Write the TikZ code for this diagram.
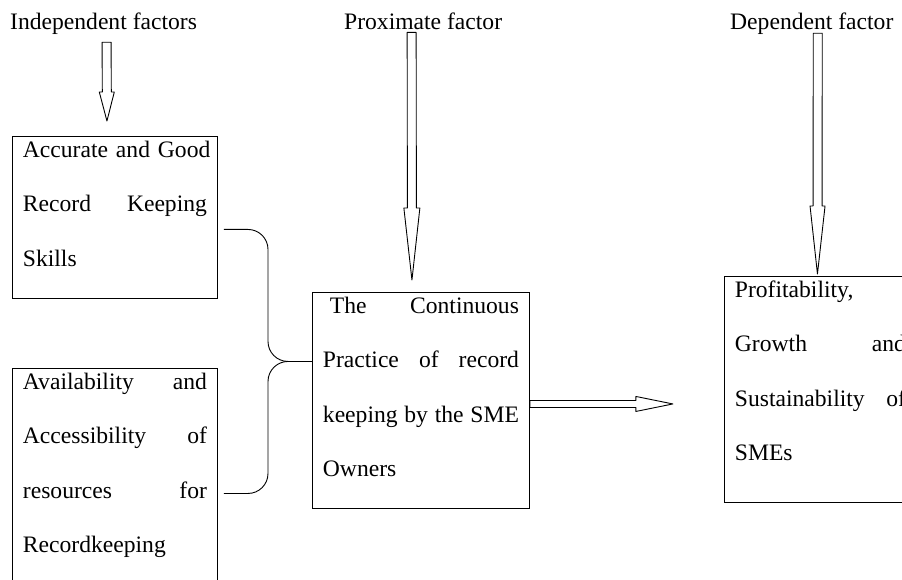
\documentclass[tikz,border=0pt]{standalone}
\usepackage{fontspec}
\setmainfont{Liberation Serif}
\usetikzlibrary{calc}

\tikzset{
  heading/.style={inner sep=0pt, anchor=base west, font=\fontsize{23.6}{28}\selectfont},
  factor/.style={draw, line width=0.9pt, anchor=north west, align=left,
    inner xsep=10.5pt, inner ysep=0pt, text height=21pt,
    font=\fontsize{23.6}{54.5}\selectfont},
  blockarrow/.style={draw, line width=0.9pt, line join=round},
  linkline/.style={draw, line width=0.9pt, rounded corners=20pt}
}

% hollow block arrow: start, tip, head length, half shaft, half head
\newcommand{\hollowarrow}[5]{%
  \draw[blockarrow] ($(#1)!#4!90:(#2)$) -- ($(#2)!#3!(#1)!#4!90:(#2)$)
    -- ($(#2)!#3!(#1)!#5!90:(#2)$) -- (#2)
    -- ($(#2)!#3!(#1)!#5!-90:(#2)$) -- ($(#2)!#3!(#1)!#4!-90:(#2)$)
    -- ($(#1)!#4!-90:(#2)$) -- cycle;}

\begin{document}
\begin{tikzpicture}[x=1pt, y=-1pt]
  \useasboundingbox (0,0) rectangle (902,580);
  \clip (0,0) rectangle (902,580);

  % column headings
  \node[heading] (indep) at (10,30) {Independent factors};
  \node[heading] (prox) at (344,30) {Proximate factor};
  \node[heading] (dep) at (730,30) {Dependent factor};

  % factor boxes
  \node[factor, text width=184pt, text depth=141pt] (skills) at (12,136)
    {\makebox[184pt][s]{Accurate and Good}\\Record\hfill Keeping\\Skills};
  \node[factor, text width=184pt, text depth=195pt] (resources) at (12,368)
    {Availability\hfill and\\Accessibility\hfill of\\resources\hfill for\\Recordkeeping};
  \node[factor, text width=196pt, text depth=195pt] (practice) at (312,292)
    {\hspace{7pt}The\hfill Continuous\\Practice\hfill of\hfill record\\keeping\hfill by\hfill the\hfill SME\\Owners};
  \node[factor, text width=171pt, text depth=205pt] (growth) at (724,276)
    {Profitability,\\Growth\hfill and\\Sustainability\hfill of\\SMEs};

  % arrows from headings
  \coordinate (a1s) at ($(indep.south)+(3,7)$);
  \coordinate (a1t) at ($(skills.north)+(-8,-15)$);
  \hollowarrow{a1s}{a1t}{29pt}{4.5pt}{7.5pt}

  \coordinate (a2s) at ($(prox.south)+(-11.5,2)$);
  \coordinate (a2t) at ($(practice.north)+(-9,-12)$);
  \hollowarrow{a2s}{a2t}{72pt}{4.5pt}{8pt}

  \coordinate (a3s) at ($(dep.south)+(6,-2)$);
  \coordinate (a3t) at ($(growth.north)+(-3,-2)$);
  \hollowarrow{a3s}{a3t}{68pt}{4.5pt}{7.5pt}

  % practice -> outcome
  \coordinate (a4s) at ($(practice.east)+(0,3.5)$);
  \coordinate (a4t) at ($(practice.east)+(143,3.5)$);
  \hollowarrow{a4s}{a4t}{37pt}{3.5pt}{7.5pt}

  % brace joining the two independent factors
  \coordinate (join) at ($(practice.west)+(0,-39)$);
  \draw[linkline] ($(skills.east)+(6,12)$) -| ($(join)+(-44,0)$) -- (join);
  \draw[linkline] ($(resources.east)+(6,17)$) -| ($(join)+(-44,0)$) -- (join);
\end{tikzpicture}
\end{document}
